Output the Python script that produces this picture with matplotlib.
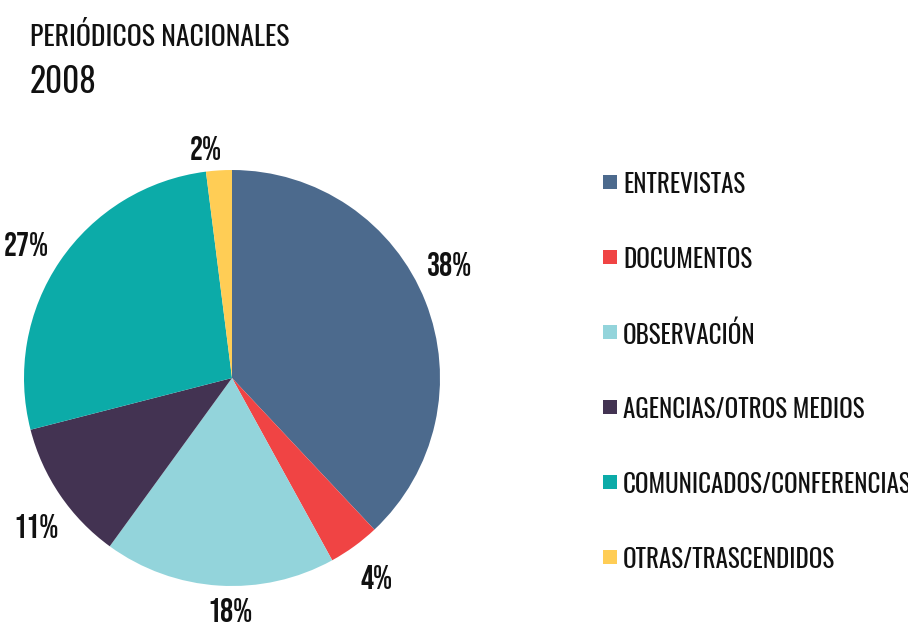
import matplotlib
matplotlib.use("Agg")
import numpy as np
import matplotlib.pyplot as plt
from matplotlib.patches import Rectangle

categories = ["ENTREVISTAS", "DOCUMENTOS", "OBSERVACIÓN", "AGENCIAS/OTROS MEDIOS",
              "COMUNICADOS/CONFERENCIAS", "OTRAS/TRASCENDIDOS"]
values = [38, 4, 18, 11, 27, 2]
colors = ["#4C6A8D", "#F04444", "#93D4DB", "#433352", "#0CABA8", "#FFCD55"]

plt.rcParams["font.family"] = ["Bebas Neue", "DejaVu Sans"]

fig = plt.figure(figsize=(9.08, 6.32), dpi=100)
ax = fig.add_axes([24 / 908, 46 / 632, 416 / 908, 416 / 632])

wedges, texts = ax.pie(values, colors=colors, startangle=90, counterclock=False,
                       labels=[f"{v}%" for v in values], labeldistance=1.18,
                       textprops=dict(fontsize=23.5, color="#111111"),
                       wedgeprops=dict(linewidth=0))
# labels sit a little off the slice middle in the original
nudge = [6, 0, 3, 3, 1, 3]
dist = [1.18, 1.18, 1.115, 1.18, 1.18, 1.115]
for t, w, d, r in zip(texts, wedges, nudge, dist):
    a = np.deg2rad((w.theta1 + w.theta2) / 2 + d)
    t.set_position((r * np.cos(a), r * np.sin(a)))
    t.set_horizontalalignment("center")
    t.set_verticalalignment("center")
    t.set_clip_on(False)
ax.set_xlim(-1, 1)
ax.set_ylim(-1, 1)
ax.set_aspect("equal")

fig.text(30 / 908, 1 - 36 / 632, "PERIÓDICOS NACIONALES", fontsize=20,
         family="Oswald", fontweight="light",
         color="#111111", va="center", ha="left")
fig.text(30 / 908, 1 - 82 / 632, "2008", fontsize=24,
         family="Oswald", fontweight="light",
         color="#111111", va="center", ha="left")

# legend
y0 = 184
step = 75
for i, (c, col) in enumerate(zip(categories, colors)):
    y = y0 + i * step
    fig.add_artist(Rectangle((603 / 908, 1 - (y + 5) / 632), 14 / 908, 14 / 632,
                             transform=fig.transFigure, color=col, lw=0))
    fig.text(623 / 908, 1 - (y + 1) / 632, c, fontsize=18, color="#111111",
             family="Oswald", fontweight="light",
             va="center", ha="left")

fig.savefig("out.png", dpi=100)
